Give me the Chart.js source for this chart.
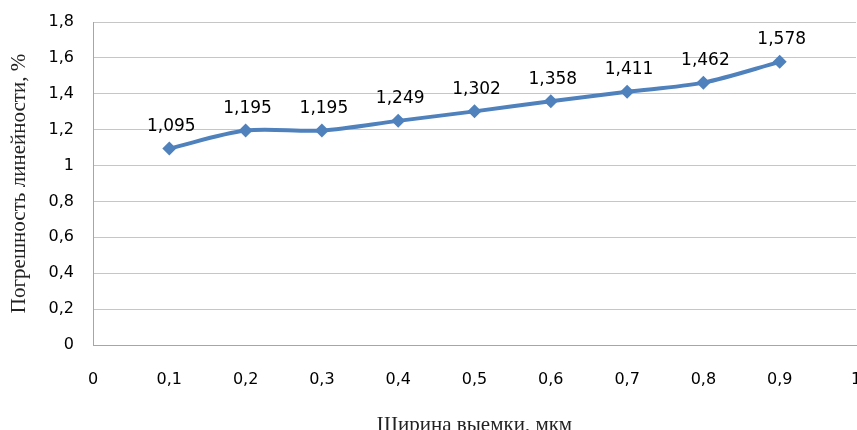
<!DOCTYPE html>
<html>
<head>
<meta charset="utf-8">
<script src="https://cdn.jsdelivr.net/npm/chart.js@4"></script>
<style>
    html, body { margin: 0; padding: 0; background: #fff; overflow: hidden; }
    #wrap { width: 863px; height: 440px; position: relative; }
</style>
</head>
<body>
<div id="wrap"><canvas id="chart"></canvas></div>
<script>
// Chart data
const widths = [0.1, 0.2, 0.3, 0.4, 0.5, 0.6, 0.7, 0.8, 0.9];
const errors = [1.095, 1.195, 1.195, 1.249, 1.302, 1.358, 1.411, 1.462, 1.578];
const errorLabels = ['1,095', '1,195', '1,195', '1,249', '1,302', '1,358', '1,411', '1,462', '1,578'];
const xTitle = 'Ширина выемки, мкм';
const yTitle = 'Погрешность линейности, %';

const comma = (v) => String(Math.round(v * 10) / 10).replace('.', ',');

// Draws value labels above each point
const pointLabels = {
    id: 'pointLabels',
    afterDatasetsDraw(chart) {
        const ctx = chart.ctx;
        const meta = chart.getDatasetMeta(0);
        ctx.save();
        ctx.font = '17px "DejaVu Sans"';
        ctx.fillStyle = '#000';
        ctx.textAlign = 'center';
        ctx.textBaseline = 'middle';
        meta.data.forEach((pt, i) => {
            ctx.fillText(errorLabels[i], pt.x + 2, pt.y - 22);
        });
        ctx.restore();
    }
};

new Chart(document.getElementById('chart'), {
    type: 'line',
    data: {
        datasets: [{
            data: widths.map((x, i) => ({ x: x, y: errors[i] })),
            borderColor: '#4F81BD',
            backgroundColor: '#4F81BD',
            borderWidth: 4,
            tension: 0.3,
            pointStyle: 'rectRot',
            pointRadius: 7,
            pointBorderWidth: 0,
            fill: false
        }]
    },
    options: {
        responsive: true,
        maintainAspectRatio: false,
        animation: false,
        layout: { padding: { top: 22, left: 0, right: 0, bottom: 0 } },
        plugins: {
            legend: { display: false },
            tooltip: { enabled: false }
        },
        scales: {
            x: {
                type: 'linear',
                min: 0,
                max: 1,
                ticks: {
                    stepSize: 0.1,
                    padding: 25,
                    color: '#000',
                    font: { family: 'DejaVu Sans', size: 16 },
                    maxRotation: 0,
                    autoSkip: false,
                    callback: (v) => comma(v)
                },
                grid: { display: false, drawTicks: false },
                border: { display: true, color: '#a6a6a6', width: 1 },
                title: {
                    display: true,
                    text: xTitle,
                    color: '#222',
                    font: { family: 'Liberation Serif', size: 21 },
                    padding: { top: 0, bottom: 2 }
                },
                afterFit(scale) {
                    scale.height = 95;
                    scale.paddingRight = 0;
                    scale.paddingLeft = 0;
                }
            },
            y: {
                min: 0,
                max: 1.8,
                ticks: {
                    stepSize: 0.2,
                    padding: 19,
                    color: '#000',
                    font: { family: 'DejaVu Sans', size: 16 },
                    callback: (v) => comma(v)
                },
                grid: { color: '#c6c6c6', drawTicks: false },
                border: { display: true, color: '#a6a6a6', width: 1 },
                title: {
                    display: true,
                    text: yTitle,
                    color: '#222',
                    font: { family: 'Liberation Serif', size: 21 },
                    padding: { top: 7, bottom: 0 }
                },
                afterFit(scale) {
                    scale.width = 93;
                    scale.paddingTop = 0;
                    scale.paddingBottom = 0;
                }
            }
        }
    },
    plugins: [pointLabels]
});
</script>
</body>
</html>
